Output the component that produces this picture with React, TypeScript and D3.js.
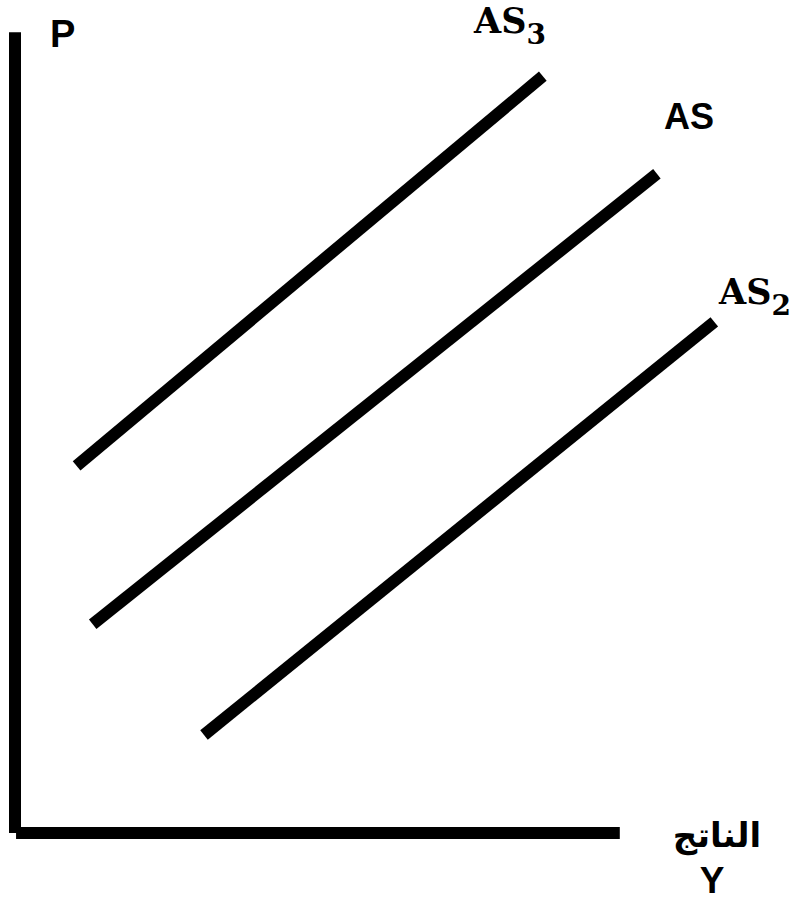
import React from "react";
import * as d3 from "d3";

const W = 798;
const H = 901;

// Supply curves: [x, y] in chart units
const curveNames = ["AS3", "AS", "AS2"];
const curveStart = [
  [8.8, 45.9],
  [11.1, 26.1],
  [27.0, 12.25],
];
const curveEnd = [
  [75.4, 94.6],
  [91.7, 82.4],
  [99.9, 63.9],
];
const axisXMax = 86.4;
const axisYMax = 100.1;

export default function App() {
  const x = d3.scaleLinear().domain([0, 100]).range([15, 715]);
  const y = d3.scaleLinear().domain([0, 100]).range([833, 33]);
  const line = d3
    .line<number[]>()
    .x((d) => x(d[0]))
    .y((d) => y(d[1]));

  return (
    <svg
      width={W}
      height={H}
      style={{ position: "absolute", left: 0, top: 0, background: "#fff" }}
    >
      <path d={line([[0, 0], [0, axisYMax]]) || ""} stroke="#000" strokeWidth={12} fill="none" />
      <path d={line([[0.15, 0], [axisXMax, 0]]) || ""} stroke="#000" strokeWidth={12} fill="none" />
      {curveNames.map((n, i) => (
        <path
          key={n}
          d={line([curveStart[i], curveEnd[i]]) || ""}
          stroke="#000"
          strokeWidth={12}
          fill="none"
        />
      ))}
      <text x={50} y={47} fontFamily="Liberation Sans, Arial, sans-serif" fontWeight="bold" fontSize={38}>
        P
      </text>
      <text x={474} y={33} fontFamily="DejaVu Serif, serif" fontWeight="bold" fontSize={35}>
        AS
        <tspan fontSize={28} dy={11}>3</tspan>
      </text>
      <text x={664} y={129} fontFamily="Liberation Sans, Arial, sans-serif" fontWeight="bold" fontSize={36}>
        AS
      </text>
      <text x={719} y={304} fontFamily="DejaVu Serif, serif" fontWeight="bold" fontSize={35}>
        AS
        <tspan fontSize={28} dy={11}>2</tspan>
      </text>
      <text x={717} y={847} textAnchor="middle" fontFamily="DejaVu Sans, sans-serif" fontWeight="bold" fontSize={34}>
        الناتج
      </text>
      <text x={712} y={893} textAnchor="middle" fontFamily="Liberation Sans, Arial, sans-serif" fontWeight="bold" fontSize={37}>
        Y
      </text>
    </svg>
  );
}
